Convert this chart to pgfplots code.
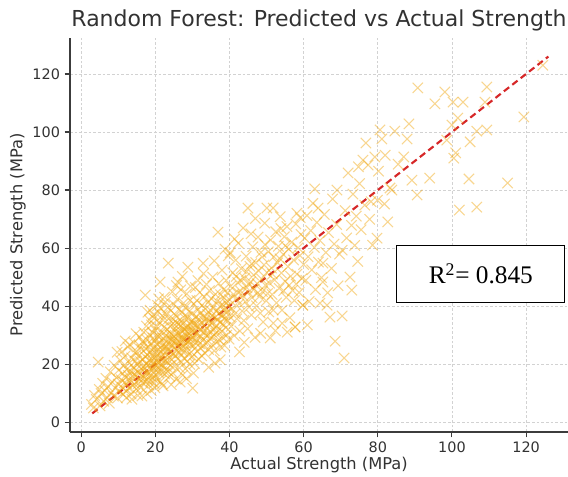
\documentclass[border=0pt]{standalone}
\usepackage{pgfplots}
\pgfplotsset{compat=1.18}
\usepackage{fontspec}
\setmainfont{DejaVu Sans}
\newfontfamily\timesfont{Liberation Serif}
\definecolor{pts}{RGB}{240,168,20}
\definecolor{fitred}{RGB}{214,39,40}
\definecolor{spine}{RGB}{60,60,60}
\definecolor{txt}{RGB}{50,50,50}

\begin{document}
\begin{tikzpicture}
\begin{axis}[
    width=373.5pt, height=295.5pt, scale only axis,
    xmin=-3, xmax=131.3, ymin=-3.4, ymax=132.4,
    axis x line*=bottom, axis y line*=left,
    axis line style={spine, line width=1pt, -},
    xtick={0,20,...,120}, ytick={0,20,...,120},
    tick align=outside, major tick length=4pt,
    tick style={spine, line width=0.8pt},
    grid=major,
    grid style={gray!35, dash pattern=on 2pt off 1.5pt, line width=0.5pt},
    ticklabel style={font=\fontsize{10.8}{12}\selectfont, text=txt},
    /pgf/number format/assume math mode=true,
    xlabel={Actual Strength (MPa)},
    ylabel={Predicted Strength (MPa)},
    label style={font=\fontsize{12.2}{14}\selectfont, text=txt},
    xlabel style={at={(axis description cs:0.5,-0.0838)}, anchor=center},
    ylabel style={at={(axis description cs:-0.1044,0.5)}, anchor=center},
    title={Random Forest: Predicted vs Actual Strength},
    title style={font=\fontsize{16.5}{19}\selectfont, text=txt,
        at={(axis description cs:0.5,1.0254)}, anchor=center},
]
\addplot[only marks, mark=x, mark size=5.5pt,
    mark options={draw=pts, line width=0.8pt, draw opacity=0.47}] coordinates {
(2.8,6.1) (3.3,4.9) (3.6,9.2) (4.1,7.8) (4.6,20.7) (4.9,11.3) (5.1,5.6) (5.4,9.9) (5.8,13.4) (6.1,7.2)
(6.4,10.8) (6.7,15.1) (7.0,8.4) (7.3,12.2) (7.6,6.5) (7.9,17.3) (8.1,10.1) (8.4,13.8) (8.7,9.0) (8.9,19.6)
(9.2,11.7) (9.5,15.4) (9.7,24.1) (9.8,8.3) (10.0,13.1) (10.1,17.9) (10.4,10.6) (10.6,21.2) (10.8,14.6) (11.0,24.3)
(11.1,12.0) (11.2,16.8) (11.4,9.5) (11.5,19.4) (11.7,13.6) (11.8,22.7) (12.0,15.3) (12.1,10.8) (12.3,18.2) (12.4,13.0)
(12.6,25.9) (12.7,16.1) (12.9,11.7) (13.0,20.4) (13.2,14.4) (13.3,17.6) (13.5,9.7) (13.6,22.1) (13.8,15.8) (13.9,12.6)
(14.0,19.0) (14.2,27.4) (14.3,16.5) (14.4,13.1) (14.6,21.0) (14.7,17.9) (14.9,11.4) (15.0,24.2) (15.1,15.6) (15.2,19.7)
(15.4,13.3) (15.5,22.8) (15.6,17.0) (15.8,29.3) (15.9,14.8) (16.0,20.9) (16.1,11.9) (16.2,18.3) (16.3,25.1) (16.5,16.2)
(16.6,13.5) (16.7,21.7) (16.8,19.2) (16.9,31.0) (17.0,15.1) (12.2,8.4) (13.7,7.9) (14.8,30.5) (15.3,9.2) (16.4,9.0)
(11.9,28.0) (13.1,26.7) (14.5,23.9) (15.7,26.4) (16.6,27.8)
(17.1,18.4) (17.2,22.6) (17.3,13.9) (17.3,43.8) (17.4,25.3) (17.5,16.7) (17.6,20.0) (17.7,28.4) (17.8,14.6) (17.9,23.1)
(18.0,37.9) (18.0,19.5) (18.1,17.2) (18.2,26.0) (18.3,12.8) (18.3,21.4) (18.4,30.2) (18.5,16.0) (18.6,38.6) (18.6,24.0)
(18.7,19.0) (18.8,14.2) (18.9,27.1) (19.0,21.9) (19.0,33.5) (19.1,17.7) (19.2,23.8) (19.3,15.3) (19.4,29.0) (19.4,20.4)
(19.5,25.7) (19.6,18.6) (19.7,13.4) (19.7,35.8) (19.8,22.2) (19.9,27.9) (20.0,19.8) (20.0,16.3) (20.1,31.6) (20.2,24.5)
(20.3,21.0) (20.3,14.9) (20.4,26.8) (20.5,18.1) (20.6,40.2) (20.6,23.2) (20.7,29.6) (20.8,20.5) (20.9,16.9) (21.0,25.0)
(21.0,34.4) (21.1,22.0) (21.2,18.9) (21.3,48.3) (21.3,27.4) (21.4,14.0) (21.5,23.7) (21.6,30.9) (21.6,20.1) (21.7,17.4)
(21.8,26.3) (21.9,36.7) (22.0,21.5) (22.0,24.9) (22.1,12.5) (22.2,28.8) (22.3,19.4) (22.4,32.8) (22.4,23.0) (22.5,16.6)
(22.6,26.1) (22.7,41.4) (22.7,21.1) (22.8,29.9) (22.9,18.0) (23.0,24.3) (17.6,33.1) (18.9,10.9) (19.9,11.8) (20.8,38.0)
(21.8,13.2) (22.9,37.2) (17.0,27.0) (18.4,35.2) (19.3,30.8) (20.4,33.0) (21.1,29.3) (22.1,35.1) (17.8,9.8) (19.5,37.0)
(20.9,42.5) (21.5,39.3) (22.5,43.1)
(23.1,27.6) (23.2,20.8) (23.3,31.9) (23.4,17.5) (23.5,54.8) (23.5,25.2) (23.6,35.6) (23.7,22.4) (23.8,28.9) (23.9,15.8)
(24.0,33.1) (24.0,24.0) (24.1,19.6) (24.2,38.4) (24.3,26.7) (24.4,30.3) (24.5,21.5) (24.6,44.9) (24.6,27.9) (24.7,17.0)
(24.8,34.0) (24.9,23.6) (25.0,29.5) (25.0,40.6) (25.1,25.8) (25.2,19.2) (25.3,32.4) (25.4,22.9) (25.5,36.9) (25.5,27.1)
(25.6,14.8) (25.7,30.7) (25.8,24.5) (25.9,42.3) (26.0,28.2) (26.1,48.3) (26.1,21.8) (26.2,33.7) (26.3,26.0) (26.4,38.9)
(26.5,18.7) (26.5,30.0) (26.6,23.9) (26.7,35.2) (26.8,27.3) (26.9,45.6) (27.0,31.4) (27.0,20.6) (27.1,25.4) (27.2,37.8)
(27.3,29.1) (27.4,16.2) (27.5,33.9) (27.5,24.2) (27.6,41.0) (27.7,28.6) (27.8,22.1) (27.9,35.9) (28.0,30.8) (28.0,26.5)
(28.1,18.4) (28.2,39.6) (28.3,32.5) (28.4,24.8) (28.5,44.2) (28.5,29.7) (28.6,21.0) (28.7,36.3) (28.8,53.4) (28.8,27.8)
(28.9,33.0) (29.0,23.3) (29.1,38.1) (29.2,30.4) (29.3,19.9) (29.3,26.9) (29.4,42.0) (29.5,34.6) (29.6,28.4) (29.7,24.1)
(29.8,31.8) (29.9,37.3) (30.0,22.6) (30.0,29.2) (30.1,11.7) (30.2,35.0) (30.3,26.3) (30.4,40.7) (30.5,31.2) (30.6,20.2)
(30.7,33.4) (30.8,46.4) (30.9,27.5) (23.4,39.5) (24.3,12.9) (25.7,47.1) (26.7,13.8) (27.3,50.2) (28.4,15.0) (29.5,46.9)
(30.3,16.9) (23.9,30.1) (24.9,35.4) (25.8,34.3) (26.9,33.3) (27.8,32.0) (28.7,31.2) (29.6,33.5) (30.5,34.0) (23.0,26.1)
(24.4,28.5) (25.3,27.9) (26.3,30.9) (27.1,28.4) (28.1,27.3) (29.1,28.0) (30.2,30.6)
(31.0,36.4) (31.1,28.7) (31.2,41.9) (31.3,24.4) (31.4,33.2) (31.5,30.5) (31.6,38.8) (31.7,21.7) (31.8,35.5) (31.9,27.0)
(32.0,44.7) (32.0,31.9) (32.1,25.6) (32.2,37.6) (32.3,29.4) (32.4,34.1) (32.5,22.9) (32.6,40.3) (32.7,32.7) (32.8,28.1)
(32.9,54.8) (32.9,36.2) (33.0,26.2) (33.1,30.9) (33.2,43.2) (33.3,34.8) (33.4,23.8) (33.5,39.0) (33.6,29.9) (33.7,35.7)
(33.8,47.5) (33.9,32.3) (34.0,27.4) (34.1,37.1) (34.2,41.2) (34.3,30.1) (34.4,25.0) (34.5,35.0) (34.6,45.3) (34.7,33.6)
(34.8,28.8) (34.9,38.5) (35.0,31.1) (35.1,42.6) (35.2,26.8) (35.3,36.6) (35.4,34.2) (35.5,50.0) (35.6,29.6) (35.7,39.8)
(35.8,32.0) (35.9,24.6) (36.0,36.0) (36.1,20.3) (36.2,44.1) (36.3,30.7) (36.4,38.2) (36.5,33.3) (36.6,27.7) (36.7,41.6)
(36.8,35.3) (36.9,65.5) (37.0,31.5) (37.1,47.8) (37.2,37.4) (37.3,28.3) (37.4,39.9) (37.5,34.4) (37.6,43.9) (37.7,25.9)
(37.8,36.8) (37.9,31.3) (38.0,52.4) (38.1,40.5) (38.2,33.9) (38.3,29.0) (38.4,45.7) (38.5,37.0) (38.6,42.8) (38.7,26.4)
(38.8,35.8) (38.9,39.4) (39.0,32.6) (39.1,48.9) (39.2,41.0) (39.3,30.0) (39.4,37.9) (39.5,44.6) (39.6,34.9) (39.7,57.3)
(39.8,40.0) (39.9,28.6) (40.0,36.5) (40.0,42.2) (31.5,48.8) (33.0,51.2) (34.4,18.9) (35.9,55.6) (37.5,21.5) (38.8,59.6)
(40.3,46.8) (40.5,33.0) (40.7,39.1) (40.9,51.5) (41.1,44.0) (41.3,29.8) (41.5,37.3) (41.7,55.8) (41.9,42.4) (42.0,35.6)
(42.2,48.1) (42.4,61.7) (42.6,40.8) (42.8,31.4) (43.0,45.2) (43.2,52.9) (43.4,38.3) (43.6,43.6) (43.7,66.9) (43.9,35.0)
(44.1,49.6) (44.3,41.5) (44.5,57.2) (44.7,46.3) (44.9,32.2) (45.0,73.8) (45.1,44.8) (45.3,39.7) (45.5,53.7) (45.7,48.4)
(45.9,36.9) (46.1,42.9) (46.3,60.4) (46.5,50.7) (46.7,45.9) (46.9,29.2) (47.1,55.0) (47.3,40.1) (47.5,47.7) (47.7,63.8)
(47.9,52.1) (48.1,43.3) (48.3,37.6) (48.5,58.5) (48.7,49.3) (48.9,45.0) (49.1,34.5) (49.3,54.2) (49.5,68.6) (49.7,47.2)
(49.9,41.8) (50.1,73.8) (50.1,51.6) (50.3,44.3) (40.2,58.4) (41.4,63.1) (42.7,24.2) (44.0,27.5) (45.8,64.9) (47.0,70.2)
(48.4,30.6) (49.6,61.2) (41.8,50.2) (43.1,48.9) (44.6,51.9) (46.0,54.6) (47.6,44.5) (48.8,56.9) (42.3,44.7) (45.2,47.5)
(50.5,58.7) (50.8,47.9) (51.0,29.0) (51.1,62.8) (51.3,53.1) (51.5,44.0) (51.8,73.8) (51.8,34.1) (52.0,57.0) (52.2,49.0)
(52.5,65.6) (52.7,41.1) (53.0,54.9) (53.2,60.6) (53.4,46.1) (53.7,70.8) (54.0,51.4) (54.2,38.6) (54.5,57.8) (54.8,63.9)
(55.0,48.6) (55.3,43.0) (55.5,67.4) (55.8,53.6) (56.0,59.6) (56.3,36.0) (56.5,50.3) (56.8,62.0) (57.0,45.4) (57.3,55.9)
(57.7,32.8) (57.9,68.3) (58.2,72.0) (58.2,51.0) (58.5,60.1) (58.8,44.7) (59.0,57.4) (59.3,64.7) (59.6,49.5) (59.8,40.3)
(60.0,54.3) (50.6,38.0) (52.4,31.5) (53.9,66.7) (55.6,31.0) (57.5,41.9) (59.1,70.5) (54.6,45.3) (56.1,47.2) (58.0,47.6)
(51.6,51.0) (53.6,56.3) (55.1,60.8) (54.2,34.1) (51.8,38.6)
(60.3,63.4) (60.6,48.9) (60.9,71.2) (61.2,57.0) (61.5,41.6) (61.9,66.0) (62.2,52.5) (62.5,75.4) (62.9,60.2) (63.2,45.7)
(63.6,68.8) (63.9,73.8) (64.0,55.2) (64.4,41.0) (64.4,62.6) (64.8,49.8) (65.2,54.8) (65.2,48.3) (65.6,71.6) (66.0,58.5)
(66.3,40.3) (66.7,65.3) (67.1,36.2) (67.5,53.0) (67.8,76.9) (68.2,61.4) (68.5,27.9) (68.9,68.1) (69.3,47.0) (69.7,57.9)
(70.4,36.6) (70.4,59.3) (70.9,22.1) (71.2,72.9) (71.6,63.5) (72.0,85.9) (72.5,50.0) (72.9,67.8) (73.3,78.6) (73.8,60.9)
(74.2,71.0) (74.6,55.4) (75.1,82.2) (75.5,66.3) (76.0,90.3) (76.5,74.8) (76.8,96.2) (77.4,88.6) (77.8,69.9) (78.2,76.0)
(78.6,61.0) (79.2,91.4) (79.8,63.4) (79.9,76.5) (80.6,100.7) (61.0,33.5) (63.0,80.4) (66.5,44.6) (69.0,80.0) (73.0,45.5)
(74.8,88.0) (59.8,40.3) (57.7,32.8)
(81.1,97.6) (82.7,69.0) (83.3,80.7) (83.8,80.0) (84.6,100.3) (87.0,91.4) (87.9,97.6) (88.4,102.8) (89.2,83.4) (90.6,78.3)
(90.8,115.2) (94.0,84.1) (95.4,109.7) (98.1,113.8) (98.6,97.2) (100.0,102.4) (100.3,110.3) (100.5,91.0) (101.0,92.8) (101.6,104.8)
(102.0,73.1) (103.0,110.3) (104.6,83.8) (104.9,96.6) (106.7,74.1) (106.7,100.3) (108.9,110.3) (109.4,115.5) (109.4,100.7) (115.0,82.4)
(119.4,105.2) (124.5,123.0) (80.2,86.5) (81.8,75.2) (85.5,88.9) (82.0,92.0)
};
\addplot[fitred, line width=1.6pt, dash pattern=on 5pt off 3pt] coordinates {(3,3) (126,126)};
\node[draw=black, line width=0.8pt, fill=white, minimum width=126pt,
    minimum height=42.75pt, font=\timesfont\fontsize{19}{22}\selectfont]
    at (axis cs:107.8,51.2) {R\textsuperscript{2}= 0.845};
\end{axis}
\pgfresetboundingbox
\path[use as bounding box] ([xshift=-52.5pt,yshift=-33.75pt]current axis.south west)
    rectangle ([yshift=28.5pt]current axis.north east);
\end{tikzpicture}
\end{document}
